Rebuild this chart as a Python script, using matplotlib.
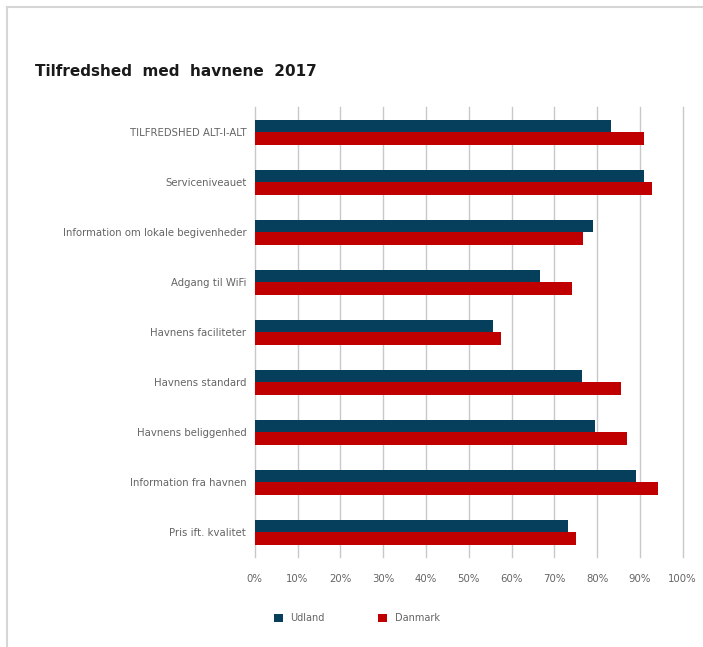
import numpy as np
import matplotlib.pyplot as plt
from matplotlib.lines import Line2D
from matplotlib.ticker import PercentFormatter

plt.rcParams['font.family'] = 'DejaVu Sans'

# data (top to bottom as in the chart)
categories = ['TILFREDSHED ALT-I-ALT', 'Serviceniveauet',
              'Information om lokale begivenheder', 'Adgang til WiFi',
              'Havnens faciliteter', 'Havnens standard',
              'Havnens beliggenhed', 'Information fra havnen',
              'Pris ift. kvalitet']
udland = [83.2, 91.0, 79.1, 66.7, 55.7, 76.4, 79.6, 89.2, 73.2]
danmark = [91.0, 92.9, 76.8, 74.1, 57.6, 85.6, 86.9, 94.3, 75.1]
series_names = ['Udland', 'Danmark']
colors = ['#063f5c', '#c00000']

W, H = 703, 647
fig = plt.figure(figsize=(W/100, H/100), dpi=100)
ax = fig.add_axes([254.7/W, 1-557/H, 428/W, 450/H])

y = np.arange(len(categories))
h = 0.25
ax.barh(y - h/2, udland, height=h, color=colors[0], label=series_names[0], zorder=3)
ax.barh(y + h/2, danmark, height=h, color=colors[1], label=series_names[1], zorder=3)

ax.set_ylim(len(categories) - 0.5, -0.5)
ax.set_xlim(0, 100)
ax.set_xticks(np.arange(0, 101, 10))
ax.xaxis.set_major_formatter(PercentFormatter(decimals=0))
ax.set_yticks(y)
ax.set_yticklabels(categories)
ax.tick_params(axis='both', length=0, labelsize=7.3, colors='#646464')
ax.tick_params(axis='x', pad=12)
ax.tick_params(axis='y', pad=6)
ax.grid(axis='x', color='#c8c8c8', lw=1.0, zorder=0)
for gl in ax.get_xgridlines():
    gl.set_clip_on(False)
for s in ax.spines.values():
    s.set_visible(False)

fig.text(35/W, 1-72/H, 'Tilfredshed  med  havnene  2017', fontsize=11,
         fontweight='bold', ha='left', va='center', color='#1a1a1a')

fig.legend(loc='center', bbox_to_anchor=(357/W, 1-618/H), ncol=2, frameon=False,
           fontsize=7, handlelength=0.9, handleheight=0.9, columnspacing=5.5,
           labelcolor='#646464')

# light frame at top and left
fig.add_artist(Line2D([7.5/W, 1], [1-6.5/H, 1-6.5/H], color='#d6d6d6', lw=1.5))
fig.add_artist(Line2D([7.5/W, 7.5/W], [0, 1-6.5/H], color='#d6d6d6', lw=1.5))

fig.savefig('out.png', dpi=100)
